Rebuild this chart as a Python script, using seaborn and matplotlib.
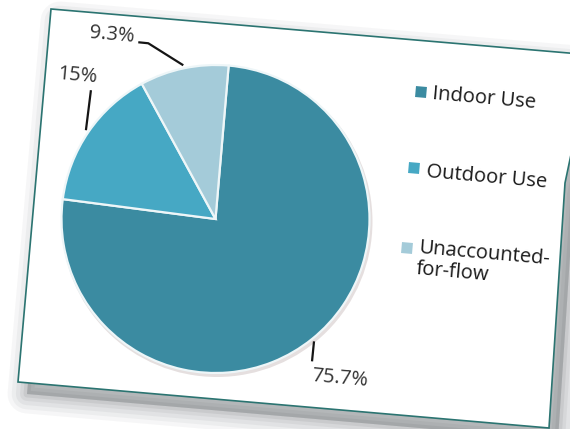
import numpy as np
import matplotlib
matplotlib.use("Agg")
import matplotlib.pyplot as plt
import seaborn as sns
from matplotlib.patches import Polygon, Rectangle, Circle

# ---- data ----
categories = ["Indoor Use", "Outdoor Use", "Unaccounted-\nfor-flow"]
shares = [75.7, 15.0, 9.3]
pct_labels = ["75.7%", "15%", "9.3%"]
colors = ["#3b8ba1", "#46a8c4", "#a4cbd9"]

sns.set_theme(style="white")
plt.rcParams["font.family"] = ["Open Sans", "DejaVu Sans"]

W, H = 570, 429
fig = plt.figure(figsize=(5.7, 4.29), dpi=100)
ax = fig.add_axes([0, 0, 1, 1])


def Y(y):
    return H - y


TILT = -5

# ---- card with shadow ----
card = [(51, 9), (592, 55), (565, 183), (549, 428), (18, 382)]
card_xy = [(x, Y(y)) for x, y in card]
for w, a in [(28, 0.05), (22, 0.06), (16, 0.07), (10, 0.08), (5, 0.1)]:
    sh = [(x + 9, y - 12) for x, y in card_xy]
    ax.add_patch(Polygon(sh, closed=True, facecolor=(0.35, 0.37, 0.39, a),
                         edgecolor=(0.35, 0.37, 0.39, a), lw=w, joinstyle="round"))
ax.add_patch(Polygon(card_xy, closed=True, facecolor="white",
                     edgecolor="#2b7471", lw=1.2))

# ---- pie ----
cx, cy, r = 215.5, Y(219), 154
ax.add_patch(Circle((cx + 1.5, cy - 2.5), r + 1.5, facecolor=(0.6, 0.5, 0.5, 0.25),
                    edgecolor="none"))
wedges, _ = ax.pie(shares, colors=colors, startangle=85.1, counterclock=False,
                   center=(cx, cy), radius=r,
                   wedgeprops=dict(edgecolor="#eef6f8", linewidth=1.6))

ax.set_aspect("auto")
ax.set_xlim(0, W)
ax.set_ylim(0, H)
ax.axis("off")

# ---- percentage labels with leader lines ----
leader_offsets = [[(-2, -20)], [(5, 40)], [(-35, 22), (-45, 23)]]
label_centers = [(339.5, 378.5), (77, 75.5), (111.5, 35)]
for wdg, offs, (lx, ly), txt in zip(wedges, leader_offsets, label_centers, pct_labels):
    th = np.deg2rad((wdg.theta1 + wdg.theta2) / 2)
    sx, sy = cx + 1.02 * r * np.cos(th), cy + 1.02 * r * np.sin(th)
    xs = [sx] + [sx + dx for dx, dy in offs]
    ys = [sy] + [sy + dy for dx, dy in offs]
    ax.plot(xs, ys, color="#151515", lw=1.6, solid_capstyle="butt")
    ax.text(lx, Y(ly), txt, ha="center", va="center", rotation=TILT,
            rotation_mode="anchor", fontsize=14.5, color="#333333")

# ---- legend ----
marker_pos = [(421, 92), (414, 168), (407, 248)]
text_pos = [(432, 94), (426, 172), (419, 238)]
text_va = ["center", "center", "top"]
for (mx, my), (tx, ty), va, col, lab in zip(marker_pos, text_pos, text_va, colors, categories):
    ax.add_patch(Rectangle((mx - 5.5, Y(my) - 5.5), 11, 11, angle=TILT,
                           rotation_point="center", facecolor=col, edgecolor="none"))
    ax.text(tx, Y(ty), lab, ha="left", va=va, rotation=TILT, rotation_mode="anchor",
            fontsize=14.5, color="#1a1a1a", linespacing=1.1)

fig.savefig("out.png", dpi=100)
